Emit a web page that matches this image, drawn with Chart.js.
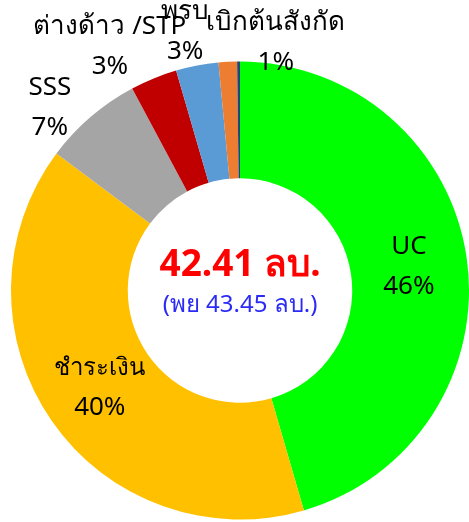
<!DOCTYPE html>
<html>
<head>
<meta charset="utf-8">
<script src="https://cdn.jsdelivr.net/npm/chart.js@4.4.1/dist/chart.umd.min.js"></script>
<style>
  html, body { margin: 0; padding: 0; background: #fff; }
  #wrap { width: 469px; height: 522px; }
</style>
</head>
<body>
<div id="wrap"><canvas id="c"></canvas></div>
<script>
// values in % of total
const categories = ["UC", "ชำระเงิน", "SSS", "ต่างด้าว /STP", "พรบ", "เบิกต้นสังกัด", "อื่นๆ"];
const shares = [45.5, 39.7, 7.0, 3.3, 3.0, 1.3, 0.2];
const sliceColors = ["#00FF00", "#FFC000", "#A5A5A5", "#C00000", "#5B9BD5", "#ED7D31", "#264478"];
const totalText = "42.41 ลบ.";
const planText = "(พย 43.45 ลบ.)";

const FONT = "'Noto Sans', 'DejaVu Sans', sans-serif";

// inside labels sit on the arc centre, small slices get pushed outside
const labelPlugin = {
    id: "sliceLabels",
    afterDatasetsDraw(chart) {
        const ctx = chart.ctx;
        const meta = chart.getDatasetMeta(0);
        const nudges = { 2: [-17, 19], 3: [-30, 2], 4: [-5, 2], 5: [50, 17] };
        ctx.save();
        ctx.textAlign = "center";
        ctx.textBaseline = "middle";
        ctx.fillStyle = "#000";
        meta.data.forEach((arc, i) => {
            const pct = Math.round(shares[i]);
            if (pct < 1) return;
            const p = arc.getProps(["x", "y", "startAngle", "endAngle", "innerRadius", "outerRadius"], true);
            const mid = (p.startAngle + p.endAngle) / 2;
            let r = (p.innerRadius + p.outerRadius) / 2;
            if (shares[i] < 10) r = p.outerRadius * 1.16;
            let x = p.x + Math.cos(mid) * r;
            let y = p.y + Math.sin(mid) * r;
            if (nudges[i]) { x += nudges[i][0]; y += nudges[i][1]; }
            ctx.font = (i === 1 ? "24px " : "26px ") + FONT;
            ctx.fillText(categories[i], x, y - 20);
            ctx.font = "26px " + FONT;
            ctx.fillText(pct + "%", x, y + 20);
        });

        // centre text
        const c = meta.data[0];
        ctx.fillStyle = "#FF0000";
        ctx.font = "bold 37px " + FONT;
        ctx.fillText(totalText, c.x, c.y - 25);
        ctx.fillStyle = "#2B2BF5";
        ctx.font = "24px " + FONT;
        ctx.fillText(planText, c.x, c.y + 15);
        ctx.restore();
    }
};

new Chart(document.getElementById("c"), {
    type: "doughnut",
    data: {
        labels: categories,
        datasets: [{
            data: shares,
            backgroundColor: sliceColors,
            borderWidth: 0,
        }],
    },
    options: {
        responsive: true,
        maintainAspectRatio: false,
        animation: false,
        cutout: "49%",
        layout: { padding: { top: 61, bottom: 2, left: 11, right: 0 } },
        plugins: {
            legend: { display: false },
            tooltip: { enabled: false },
        },
    },
    plugins: [labelPlugin],
});
</script>
</body>
</html>
